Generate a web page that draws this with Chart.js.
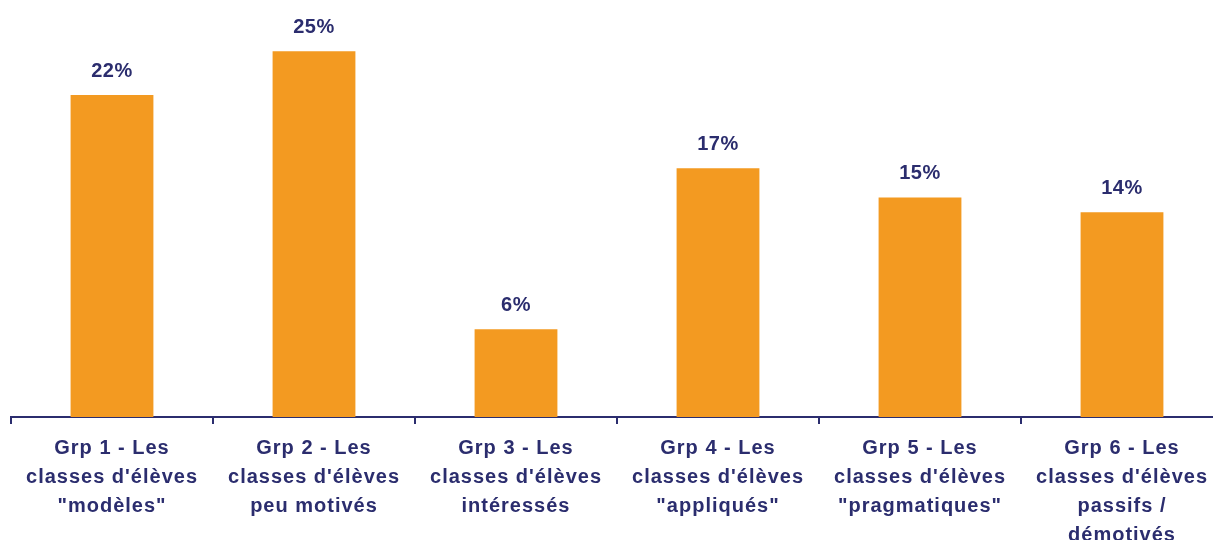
<!DOCTYPE html>
<html>
<head>
<meta charset="utf-8">
<script src="https://cdn.jsdelivr.net/npm/chart.js@4.4.0/dist/chart.umd.min.js"></script>
<style>
    html, body { margin: 0; padding: 0; background: #fff; overflow: hidden; }
    #wrap { position: relative; width: 1223px; height: 560px; }
</style>
</head>
<body>
<div id="wrap"><canvas id="groupChart"></canvas></div>
<script>
// Data
const categories = [
    ['Grp 1 - Les', "classes d'élèves", '"modèles"'],
    ['Grp 2 - Les', "classes d'élèves", 'peu motivés'],
    ['Grp 3 - Les', "classes d'élèves", 'intéressés'],
    ['Grp 4 - Les', "classes d'élèves", '"appliqués"'],
    ['Grp 5 - Les', "classes d'élèves", '"pragmatiques"'],
    ['Grp 6 - Les', "classes d'élèves", 'passifs /', 'démotivés']
];
const shares = [22, 25, 6, 17, 15, 14];

const navy = '#2B2D6E';
const orange = '#F39A21';

Chart.defaults.font.family = "'Liberation Sans', Arial, sans-serif";

// letter spacing + value labels above the bars
const labelPlugin = {
    id: 'valueLabels',
    beforeDraw(chart) {
        chart.ctx.letterSpacing = '1px';
    },
    afterDatasetsDraw(chart) {
        const ctx = chart.ctx;
        const meta = chart.getDatasetMeta(0);
        ctx.save();
        ctx.letterSpacing = '0.5px';
        ctx.font = "bold 20px 'Liberation Sans', Arial, sans-serif";
        ctx.fillStyle = navy;
        ctx.textAlign = 'center';
        ctx.textBaseline = 'bottom';
        meta.data.forEach((bar, i) => {
            ctx.fillText(shares[i] + '%', bar.x, bar.y - 14);
        });
        ctx.restore();
    }
};

const ctx = document.getElementById('groupChart').getContext('2d');
new Chart(ctx, {
    type: 'bar',
    data: {
        labels: categories,
        datasets: [{
            data: shares,
            backgroundColor: orange,
            borderWidth: 0,
            barPercentage: 0.41,
            categoryPercentage: 1
        }]
    },
    options: {
        responsive: true,
        maintainAspectRatio: false,
        animation: false,
        layout: { padding: { left: 11, right: 0, top: 0, bottom: 0 } },
        plugins: {
            legend: { display: false },
            tooltip: { enabled: false }
        },
        scales: {
            y: {
                display: false,
                min: 0,
                max: 28.5
            },
            x: {
                border: { color: navy, width: 2 },
                grid: {
                    offset: true,
                    drawOnChartArea: false,
                    color: navy,
                    lineWidth: 2,
                    tickLength: 7
                },
                ticks: {
                    color: navy,
                    padding: 10,
                    maxRotation: 0,
                    autoSkip: false,
                    font: { size: 20, weight: 'bold', lineHeight: 1.45 }
                }
            }
        }
    },
    plugins: [labelPlugin]
});
</script>
</body>
</html>
